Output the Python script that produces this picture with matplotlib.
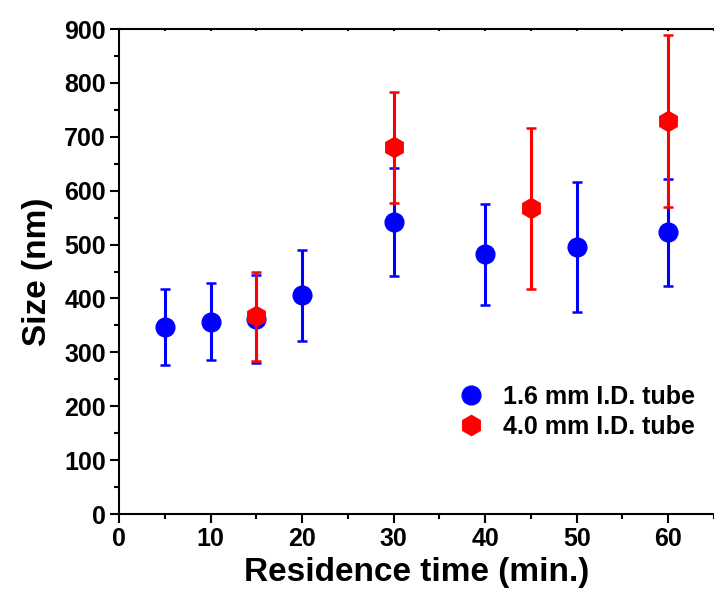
import matplotlib
matplotlib.use("Agg")
import matplotlib.pyplot as plt
from matplotlib.ticker import MultipleLocator
from matplotlib.lines import Line2D

# Data
blue_x = [5, 10, 15, 20, 30, 40, 50, 60]
blue_y = [347, 357, 362, 406, 542, 482, 496, 523]
blue_err = [71, 71, 81, 84, 100, 94, 121, 99]

red_x = [15, 30, 45, 60]
red_y = [367, 681, 567, 729]
red_err = [83, 103, 150, 160]

labels = ["1.6 mm I.D. tube", "4.0 mm I.D. tube"]

plt.rcParams['font.family'] = ['Liberation Sans', 'DejaVu Sans']
plt.rcParams['font.weight'] = 'bold'

fig = plt.figure(figsize=(7.14, 6.01), dpi=100)
ax = fig.add_axes([0.1667, 0.1447, 0.8333, 0.807])

ax.errorbar(blue_x, blue_y, yerr=blue_err, fmt='o', color='#0000FF', ms=13.5,
            mec='#0000FF', elinewidth=2.2, capsize=3.5, capthick=1.8, zorder=3)
ax.errorbar(red_x, red_y, yerr=red_err, fmt='h', color='#FF0000', ms=14.5,
            mec='#FF0000', elinewidth=2.2, capsize=3.5, capthick=1.8, zorder=4)

ax.set_xlim(0, 65)
ax.set_ylim(0, 900)
ax.xaxis.set_major_locator(MultipleLocator(10))
ax.xaxis.set_minor_locator(MultipleLocator(5))
ax.yaxis.set_major_locator(MultipleLocator(100))
ax.yaxis.set_minor_locator(MultipleLocator(50))

for s in ['left', 'bottom', 'top']:
    ax.spines[s].set_linewidth(1.5)
ax.spines['right'].set_visible(False)

ax.tick_params(axis='both', which='major', direction='out', length=6.5, width=1.5,
               labelsize=18, pad=3)
ax.tick_params(axis='both', which='minor', direction='out', length=3.6, width=1.5)
ax.tick_params(axis='x', which='both', top=True, labeltop=False)
for tick in ax.xaxis.get_major_ticks() + ax.xaxis.get_minor_ticks():
    tick.tick2line.set_markersize(1.5)
    tick.tick2line.set_marker(3)

for lab in ax.get_xticklabels() + ax.get_yticklabels():
    lab.set_fontweight('bold')

ax.set_xlabel("Residence time (min.)", fontsize=24, fontweight='bold', labelpad=4)
ax.set_ylabel("Size (nm)", fontsize=24, fontweight='bold', labelpad=8)

handles = [
    Line2D([], [], linestyle='none', marker='o', color='#0000FF', ms=13.5),
    Line2D([], [], linestyle='none', marker='h', color='#FF0000', ms=14.5),
]
leg = ax.legend(handles, labels, loc='upper left', bbox_to_anchor=(0.571, 0.267),
                frameon=False, fontsize=18, handlelength=1.0, handletextpad=0.75,
                borderaxespad=0, borderpad=0, labelspacing=0.25)
for t in leg.get_texts():
    t.set_fontweight('bold')

fig.savefig("out.png", dpi=100)
